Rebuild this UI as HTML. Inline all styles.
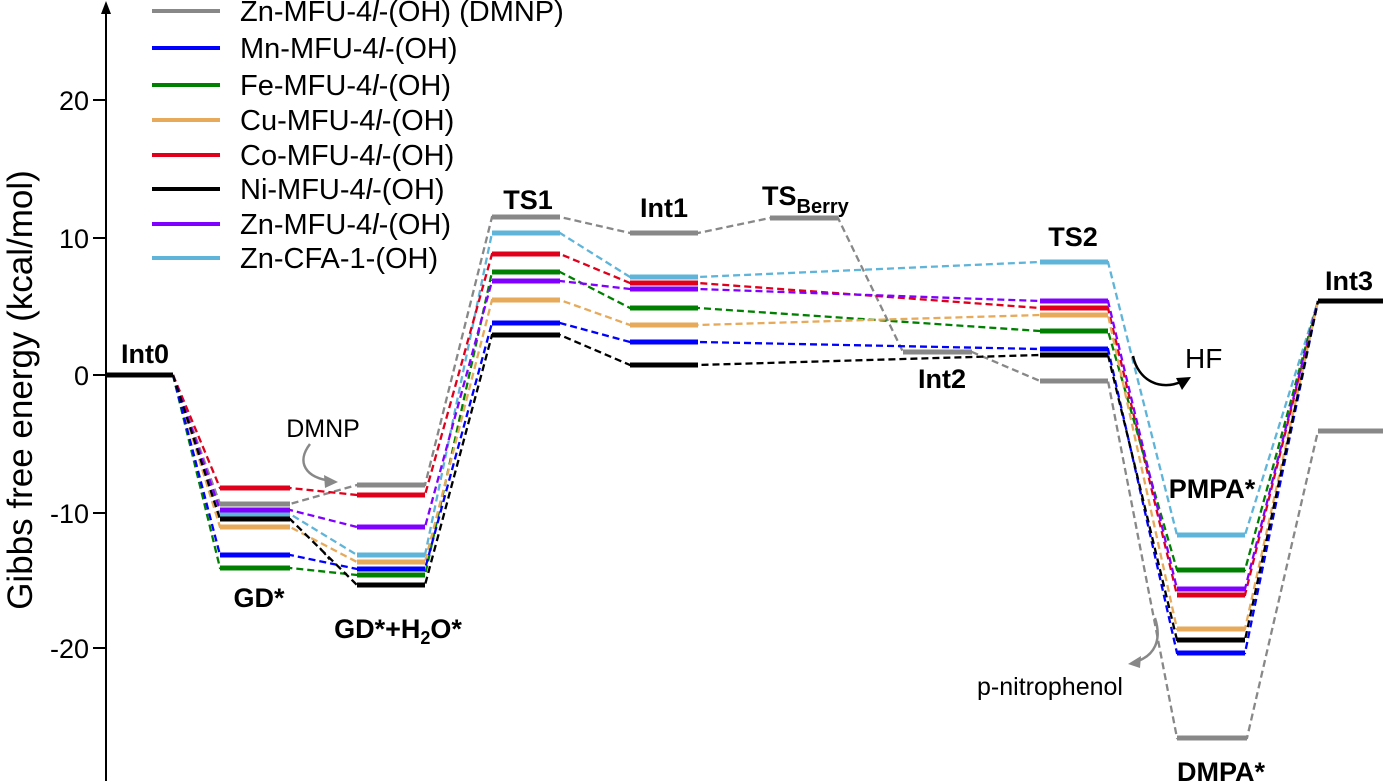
<!DOCTYPE html>
<html><head><meta charset="utf-8"><style>
html,body{margin:0;padding:0;background:#fff}
svg{display:block;font-family:"Liberation Sans",Arial,sans-serif}
.d{fill:none;stroke-width:2.3;stroke-dasharray:7,4}
.l{stroke-width:5}
.b{font-weight:bold;font-size:27px}
</style></head><body>
<svg width="1383" height="783" viewBox="0 0 1383 783" xmlns="http://www.w3.org/2000/svg">
<line x1="106" y1="8" x2="106" y2="781" stroke="#000" stroke-width="2"/>
<polygon points="106,1 101,14 111,14" fill="#000"/>
<g stroke="#000" stroke-width="2">
<line x1="93" y1="100" x2="106" y2="100"/><line x1="93" y1="238" x2="106" y2="238"/>
<line x1="93" y1="375" x2="106" y2="375"/><line x1="93" y1="513" x2="106" y2="513"/>
<line x1="93" y1="648" x2="106" y2="648"/></g>
<g font-size="27" text-anchor="end">
<text x="89" y="110">20</text><text x="89" y="248">10</text><text x="89" y="385">0</text>
<text x="89" y="523">-10</text><text x="89" y="658">-20</text></g>
<text transform="translate(32,390) rotate(-90)" font-size="35" text-anchor="middle">Gibbs free energy (kcal/mol)</text>

<g stroke-width="4">
<line x1="152" y1="11" x2="220" y2="11" stroke="#888"/>
<line x1="152" y1="48" x2="220" y2="48" stroke="#0000ff"/>
<line x1="152" y1="85" x2="220" y2="85" stroke="#008000"/>
<line x1="152" y1="120" x2="220" y2="120" stroke="#e6aa5a"/>
<line x1="152" y1="155" x2="220" y2="155" stroke="#e0001b"/>
<line x1="152" y1="189" x2="220" y2="189" stroke="#000"/>
<line x1="152" y1="224" x2="220" y2="224" stroke="#8000ff"/>
<line x1="152" y1="258" x2="220" y2="258" stroke="#5fb4d9"/></g>
<g font-size="29">
<text x="240" y="21">Zn-MFU-4<tspan font-style="italic">l</tspan>-(OH) (DMNP)</text>
<text x="240" y="58">Mn-MFU-4<tspan font-style="italic">l</tspan>-(OH)</text>
<text x="240" y="95">Fe-MFU-4<tspan font-style="italic">l</tspan>-(OH)</text>
<text x="240" y="130">Cu-MFU-4<tspan font-style="italic">l</tspan>-(OH)</text>
<text x="240" y="165">Co-MFU-4<tspan font-style="italic">l</tspan>-(OH)</text>
<text x="240" y="199">Ni-MFU-4<tspan font-style="italic">l</tspan>-(OH)</text>
<text x="240" y="234">Zn-MFU-4<tspan font-style="italic">l</tspan>-(OH)</text>
<text x="240" y="268">Zn-CFA-1-(OH)</text></g>

<polyline class="d" stroke="#888" points="173,375 220,504 290,504 357,485 425,485 492,217 560,217 630,233 698,233 770,218 838,218 903,352 972,352 1040,381 1108,381 1177,738 1247,738 1318,431"/>
<polyline class="d" stroke="#5fb4d9" points="173,375 220,514 290,514 357,555 425,555 492,233 560,233 630,277 698,277 1040,262 1108,262 1177,535 1245,535 1318,301"/>
<polyline class="d" stroke="#e0001b" points="173,375 220,488 290,488 357,495 425,495 492,254 560,254 630,283 698,283 1040,308 1108,308 1177,595 1245,595 1318,301"/>
<polyline class="d" stroke="#008000" points="173,375 220,568 290,568 357,575 425,575 492,272 560,272 630,308 698,308 1040,331 1108,331 1177,570 1245,570 1318,301"/>
<polyline class="d" stroke="#8000ff" points="173,375 220,510 290,510 357,527 425,527 492,281 560,281 630,289 698,289 1040,301 1108,301 1177,589 1245,589 1318,301"/>
<polyline class="d" stroke="#e6aa5a" points="173,375 220,527 290,527 357,562 425,562 492,300 560,300 630,325 698,325 1040,315 1108,315 1177,629 1245,629 1318,301"/>
<polyline class="d" stroke="#0000ff" points="173,375 220,555 290,555 357,569 425,569 492,323 560,323 630,342 698,342 1040,349 1108,349 1177,653 1245,653 1318,301"/>
<polyline class="d" stroke="#000" points="173,375 220,519 290,519 357,585 425,585 492,335 560,335 630,365 698,365 1040,355 1108,355 1177,640 1245,640 1318,301"/>

<g class="l">
<line x1="107" y1="375" x2="173" y2="375" stroke="#000"/>
<line x1="1318" y1="301" x2="1383" y2="301" stroke="#000"/>
<line x1="1318" y1="431" x2="1383" y2="431" stroke="#888"/>
<g stroke="#888"><line x1="220" y1="504" x2="290" y2="504"/><line x1="357" y1="485" x2="425" y2="485"/><line x1="492" y1="217" x2="560" y2="217"/><line x1="630" y1="233" x2="698" y2="233"/><line x1="770" y1="218" x2="838" y2="218"/><line x1="903" y1="352" x2="972" y2="352"/><line x1="1040" y1="381" x2="1108" y2="381"/><line x1="1177" y1="738" x2="1247" y2="738"/></g>
<g stroke="#5fb4d9"><line x1="220" y1="514" x2="290" y2="514"/><line x1="357" y1="555" x2="425" y2="555"/><line x1="492" y1="233" x2="560" y2="233"/><line x1="630" y1="277" x2="698" y2="277"/><line x1="1040" y1="262" x2="1108" y2="262"/><line x1="1177" y1="535" x2="1245" y2="535"/></g>
<g stroke="#e0001b"><line x1="220" y1="488" x2="290" y2="488"/><line x1="357" y1="495" x2="425" y2="495"/><line x1="492" y1="254" x2="560" y2="254"/><line x1="630" y1="283" x2="698" y2="283"/><line x1="1040" y1="308" x2="1108" y2="308"/><line x1="1177" y1="595" x2="1245" y2="595"/></g>
<g stroke="#008000"><line x1="220" y1="568" x2="290" y2="568"/><line x1="357" y1="575" x2="425" y2="575"/><line x1="492" y1="272" x2="560" y2="272"/><line x1="630" y1="308" x2="698" y2="308"/><line x1="1040" y1="331" x2="1108" y2="331"/><line x1="1177" y1="570" x2="1245" y2="570"/></g>
<g stroke="#8000ff"><line x1="220" y1="510" x2="290" y2="510"/><line x1="357" y1="527" x2="425" y2="527"/><line x1="492" y1="281" x2="560" y2="281"/><line x1="630" y1="289" x2="698" y2="289"/><line x1="1040" y1="301" x2="1108" y2="301"/><line x1="1177" y1="589" x2="1245" y2="589"/></g>
<g stroke="#e6aa5a"><line x1="220" y1="527" x2="290" y2="527"/><line x1="357" y1="562" x2="425" y2="562"/><line x1="492" y1="300" x2="560" y2="300"/><line x1="630" y1="325" x2="698" y2="325"/><line x1="1040" y1="315" x2="1108" y2="315"/><line x1="1177" y1="629" x2="1245" y2="629"/></g>
<g stroke="#0000ff"><line x1="220" y1="555" x2="290" y2="555"/><line x1="357" y1="569" x2="425" y2="569"/><line x1="492" y1="323" x2="560" y2="323"/><line x1="630" y1="342" x2="698" y2="342"/><line x1="1040" y1="349" x2="1108" y2="349"/><line x1="1177" y1="653" x2="1245" y2="653"/></g>
<g stroke="#000"><line x1="220" y1="519" x2="290" y2="519"/><line x1="357" y1="585" x2="425" y2="585"/><line x1="492" y1="335" x2="560" y2="335"/><line x1="630" y1="365" x2="698" y2="365"/><line x1="1040" y1="355" x2="1108" y2="355"/><line x1="1177" y1="640" x2="1245" y2="640"/></g>
</g>
<line x1="320" y1="548" x2="330" y2="560" stroke="#000" stroke-width="2" stroke-dasharray="3,3"/>

<g class="b" text-anchor="middle">
<text x="145" y="363">Int0</text>
<text x="259" y="607">GD*</text>
<text x="398" y="638">GD*+H<tspan font-size="18" dy="6">2</tspan><tspan dy="-6">O*</tspan></text>
<text x="528" y="209">TS1</text>
<text x="664" y="217">Int1</text>
<text x="942" y="388">Int2</text>
<text x="1073" y="246">TS2</text>
<text x="1212" y="498">PMPA*</text>
<text x="1221" y="781">DMPA*</text>
<text x="1349" y="290">Int3</text>
</g>
<text x="762" y="205" class="b">TS<tspan font-size="20" dy="8">Berry</tspan></text>
<text x="323" y="437" font-size="25" text-anchor="middle">DMNP</text>
<path d="M310,444 C296,462 305,478 332,481" fill="none" stroke="#888" stroke-width="2.5"/>
<polygon points="338,482 324,475 325,488" fill="#888"/>
<text x="1050" y="695" font-size="25" text-anchor="middle">p-nitrophenol</text>
<path d="M1155,618 C1162,640 1155,656 1135,662" fill="none" stroke="#888" stroke-width="2.5"/>
<polygon points="1128,664 1141,656 1140,668" fill="#888"/>
<text x="1185" y="368" font-size="28">HF</text>
<path d="M1133,356 C1138,380 1160,392 1183,381" fill="none" stroke="#000" stroke-width="2.5"/>
<polygon points="1191,377 1176,378 1182,390" fill="#000"/>
</svg>
</body></html>
